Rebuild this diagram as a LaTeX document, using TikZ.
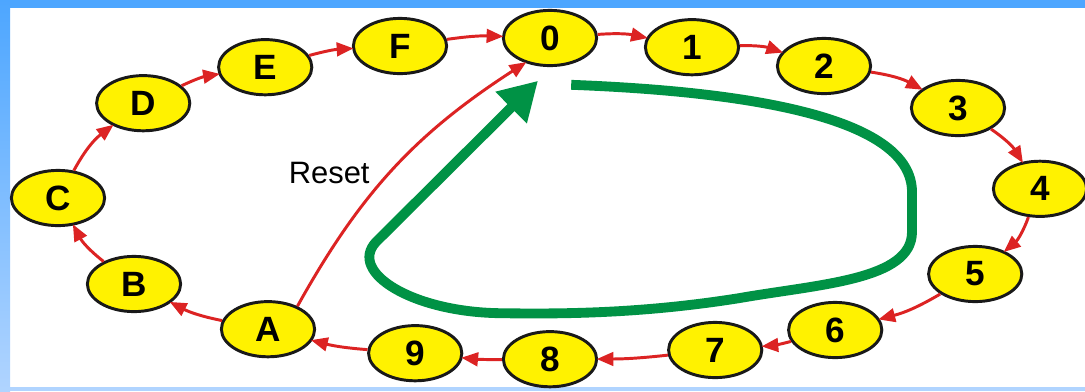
\documentclass[tikz,border=0pt]{standalone}
\usepackage{fontspec}
\setmainfont{Liberation Sans}
\usetikzlibrary{shapes.geometric,arrows.meta}

\definecolor{framblue}{RGB}{77,166,255}
\definecolor{framlight}{RGB}{176,212,255}
\definecolor{ringred}{RGB}{220,35,35}
\definecolor{loopgreen}{RGB}{0,146,69}

\tikzset{
	state/.style={ellipse, draw=black!90, line width=2.1pt, fill=yellow,
		minimum width=2.33cm, minimum height=1.38cm, inner sep=0pt,
		font=\bfseries\fontsize{25}{28}\selectfont},
	trans/.style={draw=ringred, line width=2.1pt,
		-{Triangle[length=0.42cm,width=0.34cm]}, shorten >=-1pt},
	cycle/.style={draw=loopgreen, line width=7pt,
		-{Triangle[length=0.95cm,width=1.05cm]}}
}

\begin{document}
\begin{tikzpicture}
				% frame
				\useasboundingbox (0,0) rectangle (27.125,-9.775);
				\fill[white] (0,0) rectangle (27.125,-9.775);
				\fill[framblue] (0,0) rectangle (27.125,-0.19);
				\fill[framlight] (0,-9.675) rectangle (27.125,-9.775);
				\shade[top color=framblue, bottom color=framlight] (0,0) rectangle (0.25,-9.775);
				% counter states
				\node[state] (n0) at (13.75,-0.95) {0};
				\node[state] (n1) at (17.3,-1.18) {1};
				\node[state] (n2) at (20.6,-1.65) {2};
				\node[state] (n3) at (23.95,-2.7) {3};
				\node[state] (n4) at (26.0,-4.72) {4};
				\node[state] (n5) at (24.38,-6.85) {5};
				\node[state] (n6) at (20.88,-8.25) {6};
				\node[state] (n7) at (17.88,-8.75) {7};
				\node[state] (n8) at (13.75,-8.98) {8};
				\node[state] (n9) at (10.38,-8.83) {9};
				\node[state] (nA) at (6.7,-8.23) {A};
				\node[state] (nB) at (3.35,-7.1) {B};
				\node[state] (nC) at (1.45,-4.95) {C};
				\node[state] (nD) at (3.58,-2.58) {D};
				\node[state] (nE) at (6.63,-1.68) {E};
				\node[state] (nF) at (10.0,-1.15) {F};
				% transitions
				\draw[trans] (n0) to[bend left=8] (n1);
				\draw[trans] (n1) to[bend left=10] (n2);
				\draw[trans] (n2) to[bend left=10] (n3);
				\draw[trans] (n3) to[bend left=12] (n4);
				\draw[trans] (n4) to[bend left=15] (n5);
				\draw[trans] (n5) to[bend left=8] (n6);
				\draw[trans] (n6) to[bend left=5] (n7);
				\draw[trans] (n7) to[bend left=3] (n8);
				\draw[trans] (n8) to[bend left=3] (n9);
				\draw[trans] (n9) to[bend left=5] (nA);
				\draw[trans] (nA) to[bend left=8] (nB);
				\draw[trans] (nB) to[bend left=12] (nC);
				\draw[trans] (nC) to[bend left=12] (nD);
				\draw[trans] (nD) to[bend left=8] (nE);
				\draw[trans] (nE) to[bend left=6] (nF);
				\draw[trans] (nF) to[bend left=5] (n0);
				% reset
				\draw[trans] (nA.38) to[bend left=14] (n0.225);
				\node[font=\fontsize{22}{26}\selectfont] (reset) at (8.23,-4.32) {Reset};
				% counting loop
				\coordinate (gstart) at (14.28,-2.12);
				\coordinate (gtip) at (13.45,-2.02);
				\draw[cycle] (gstart) .. controls (19,-2.3) and (22.8,-3.0) .. (22.8,-4.8)
					-- (22.8,-5.8)
					.. controls (22.8,-7.0) and (20.5,-7.1) .. (18.5,-7.45)
					.. controls (16,-7.85) and (14,-7.85) .. (12.5,-7.83)
					.. controls (10.3,-7.8) and (8.7,-6.8) .. (9.4,-6.05)
					-- (gtip);
			\end{tikzpicture}
\end{document}
